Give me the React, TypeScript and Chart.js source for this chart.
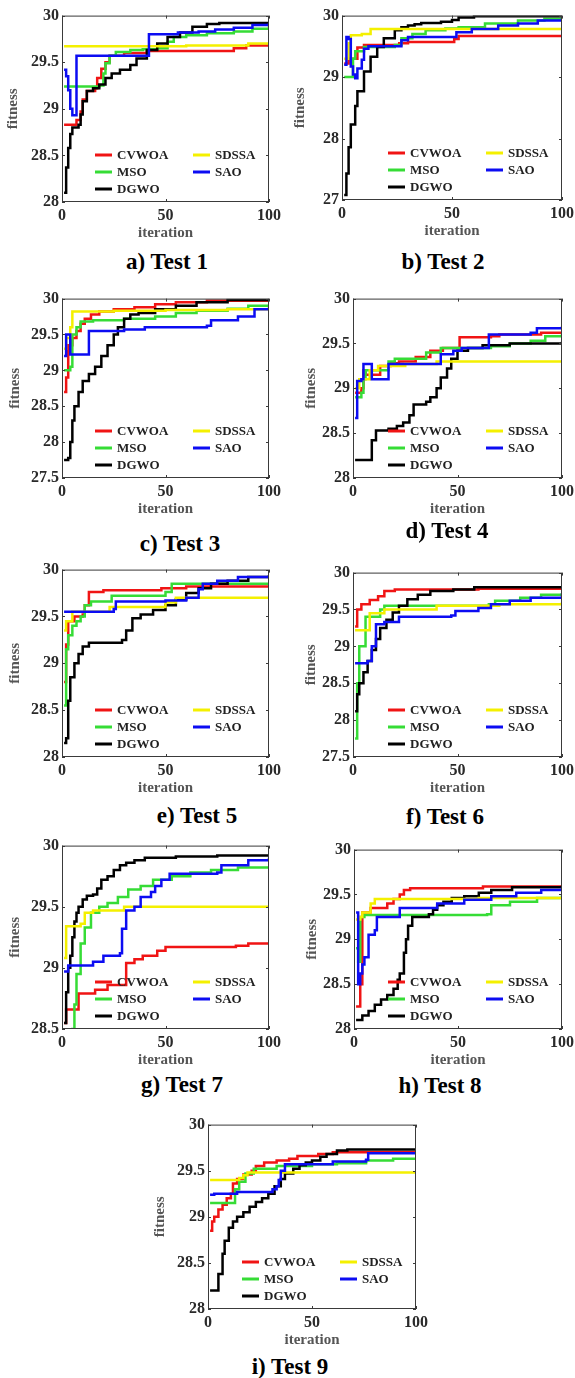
import React, { useEffect, useRef } from "react";
import { Chart, registerables } from "chart.js";

Chart.register(...registerables);

// ---------- series identity ----------
const SERIES = ["CVWOA", "MSO", "DGWO", "SDSSA", "SAO"];
const COLORS = ["#f01414", "#36dc36", "#000000", "#f4f000", "#0c0cf2"];

// ---------- tick labels ----------
const X_TICKS = [0, 50, 100];
const Y_TICKS_28 = [28, 28.5, 29, 29.5, 30];
const Y_TICKS_27 = [27, 28, 29, 30];
const Y_TICKS_275 = [27.5, 28, 28.5, 29, 29.5, 30];
const Y_TICKS_285 = [28.5, 29, 29.5, 30];

// ---------- Test 1 ----------
const t1CVWOA = [[1,28.83],[7,28.88],[9,28.97],[10,29.1],[12,29.19],[16,29.22],[17,29.33],[19,29.43],[21,29.5],[23,29.57],[30,29.6],[41,29.62],[83,29.65],[89,29.68],[100,29.7]];
const t1SDSSA = [[1,29.67],[60,29.68],[90,29.7],[100,29.7]];
const t1MSO = [[1,29.24],[18,29.25],[20,29.38],[21,29.49],[23,29.57],[26,29.61],[33,29.63],[39,29.64],[46,29.65],[51,29.72],[54,29.77],[60,29.79],[70,29.81],[83,29.83],[92,29.86],[100,29.89]];
const t1SAO = [[1,29.42],[2,29.35],[3,29.2],[4,29.0],[5,28.93],[7,29.57],[41,29.57],[42,29.8],[54,29.8],[56,29.82],[66,29.83],[74,29.85],[83,29.87],[92,29.9],[100,29.92]];
const t1DGWO = [[1,28.1],[2,28.37],[3,28.58],[4,28.73],[5,28.8],[8,28.83],[9,28.94],[10,29.08],[12,29.19],[15,29.22],[18,29.26],[21,29.33],[24,29.38],[28,29.42],[33,29.47],[36,29.54],[41,29.63],[46,29.7],[51,29.77],[57,29.82],[63,29.88],[70,29.91],[76,29.92],[100,29.93]];

// ---------- Test 2 ----------
const t2CVWOA = [[1,29.22],[3,29.3],[7,29.48],[10,29.52],[26,29.55],[30,29.57],[51,29.62],[53,29.67],[100,29.67]];
const t2SDSSA = [[1,29.3],[3,29.55],[4,29.68],[9,29.7],[13,29.78],[100,29.78]];
const t2MSO = [[1,29.0],[5,29.3],[6,29.42],[10,29.49],[24,29.52],[27,29.63],[32,29.7],[38,29.76],[47,29.79],[53,29.81],[65,29.87],[80,29.92],[92,29.95],[100,29.96]];
const t2SAO = [[1,29.2],[2,29.65],[3,29.62],[4,29.17],[5,29.04],[6,28.98],[7,29.14],[9,29.28],[10,29.46],[12,29.5],[27,29.6],[30,29.65],[50,29.65],[52,29.73],[59,29.78],[71,29.84],[80,29.87],[89,29.92],[100,29.96]];
const t2DGWO = [[1,27.08],[2,27.43],[3,27.86],[4,28.23],[6,28.53],[7,28.77],[10,29.09],[13,29.33],[16,29.49],[19,29.63],[24,29.76],[27,29.81],[30,29.84],[33,29.86],[36,29.88],[45,29.9],[50,29.93],[53,29.97],[60,29.99],[100,30.0]];

// ---------- Test 3 ----------
const t3CVWOA = [[1,28.7],[2,28.9],[3,29.35],[5,29.45],[7,29.55],[9,29.65],[11,29.72],[14,29.78],[18,29.82],[25,29.85],[35,29.88],[45,29.92],[55,29.95],[70,29.97],[100,29.98]];
const t3SDSSA = [[1,29.3],[2,29.45],[4,29.6],[5,29.82],[25,29.83],[50,29.84],[80,29.85],[100,29.85]];
const t3MSO = [[1,29.0],[4,29.05],[5,29.5],[7,29.6],[9,29.68],[15,29.7],[30,29.72],[45,29.75],[55,29.8],[65,29.83],[80,29.86],[90,29.9],[100,29.92]];
const t3SAO = [[1,29.2],[2,29.5],[4,29.22],[13,29.55],[30,29.57],[40,29.6],[70,29.62],[72,29.7],[85,29.75],[93,29.85],[100,29.88]];
const t3DGWO = [[1,27.75],[3,27.78],[4,28.0],[5,28.3],[6,28.5],[8,28.7],[10,28.85],[13,28.95],[16,29.05],[19,29.2],[22,29.35],[25,29.5],[27,29.6],[30,29.72],[33,29.78],[37,29.8],[45,29.85],[55,29.9],[65,29.95],[80,29.98],[100,30.0]];

// ---------- Test 4 ----------
const t4CVWOA = [[1,28.95],[4,29.0],[5,29.2],[6,29.15],[13,29.25],[18,29.28],[22,29.3],[30,29.35],[37,29.42],[43,29.45],[51,29.57],[66,29.58],[70,29.6],[90,29.62],[100,29.63]];
const t4SDSSA = [[1,29.0],[3,29.1],[8,29.2],[12,29.25],[25,29.27],[40,29.3],[100,29.3]];
const t4MSO = [[1,28.9],[4,28.95],[5,29.1],[6,29.2],[17,29.3],[20,29.33],[35,29.4],[42,29.45],[66,29.47],[75,29.5],[85,29.53],[92,29.58],[100,29.61]];
const t4SAO = [[1,28.67],[2,29.08],[4,29.1],[5,29.27],[9,29.1],[17,29.27],[41,29.27],[42,29.38],[48,29.42],[52,29.45],[64,29.45],[65,29.6],[85,29.62],[88,29.67],[100,29.69]];
const t4DGWO = [[1,28.2],[8,28.2],[9,28.42],[11,28.53],[17,28.55],[21,28.58],[24,28.62],[27,28.7],[29,28.82],[35,28.85],[37,28.9],[40,29.0],[42,29.12],[45,29.22],[47,29.33],[50,29.42],[55,29.45],[62,29.48],[75,29.5],[100,29.52]];

// ---------- Test 5 ----------
const t5CVWOA = [[1,28.8],[2,29.2],[3,29.45],[6,29.5],[10,29.52],[11,29.62],[13,29.76],[20,29.78],[48,29.8],[60,29.82],[100,29.83]];
const t5SDSSA = [[1,29.35],[2,29.45],[5,29.55],[23,29.6],[50,29.65],[55,29.7],[100,29.7]];
const t5MSO = [[1,28.55],[2,29.15],[3,29.3],[5,29.4],[7,29.45],[9,29.5],[11,29.62],[14,29.66],[24,29.72],[50,29.76],[53,29.85],[100,29.86]];
const t5SAO = [[1,29.55],[25,29.58],[26,29.66],[50,29.67],[60,29.7],[66,29.79],[68,29.85],[75,29.88],[85,29.92],[100,29.94]];
const t5DGWO = [[1,28.15],[2,28.2],[3,28.6],[4,28.85],[6,29.0],[8,29.1],[10,29.18],[13,29.22],[29,29.25],[31,29.35],[34,29.48],[38,29.52],[44,29.57],[50,29.62],[55,29.68],[60,29.75],[66,29.8],[72,29.85],[80,29.88],[90,29.92],[100,29.94]];

// ---------- Test 6 ----------
const t6CVWOA = [[1,29.27],[2,29.5],[4,29.57],[8,29.63],[12,29.68],[15,29.75],[20,29.77],[60,29.78],[100,29.8]];
const t6SDSSA = [[1,29.22],[7,29.22],[8,29.45],[15,29.5],[40,29.55],[70,29.57],[100,29.6]];
const t6MSO = [[1,27.75],[2,28.5],[3,29.0],[6,29.4],[13,29.5],[15,29.55],[65,29.57],[68,29.62],[80,29.66],[90,29.7],[100,29.72]];
const t6SAO = [[1,28.77],[7,28.8],[9,29.0],[11,29.3],[15,29.33],[22,29.4],[47,29.42],[49,29.48],[60,29.52],[66,29.57],[75,29.62],[85,29.66],[100,29.72]];
const t6DGWO = [[1,28.12],[2,28.35],[3,28.5],[5,28.65],[7,28.8],[9,28.95],[11,29.1],[13,29.25],[16,29.36],[19,29.46],[22,29.55],[26,29.64],[31,29.7],[37,29.75],[48,29.77],[58,29.8],[100,29.8]];

// ---------- Test 7 ----------
const t7CVWOA = [[1,28.55],[2,28.66],[8,28.79],[16,28.82],[22,28.86],[31,29.04],[35,29.07],[39,29.1],[46,29.14],[50,29.17],[84,29.18],[90,29.2],[100,29.2]];
const t7SDSSA = [[1,29.08],[2,29.34],[9,29.36],[11,29.45],[15,29.47],[30,29.5],[100,29.5]];
const t7MSO = [[1,28.4],[5,28.5],[6,28.7],[7,28.95],[9,29.2],[11,29.33],[14,29.45],[18,29.5],[22,29.53],[27,29.58],[32,29.64],[38,29.67],[44,29.72],[53,29.75],[62,29.78],[72,29.8],[85,29.82],[100,29.83]];
const t7SAO = [[1,28.97],[3,29.02],[15,29.05],[20,29.1],[28,29.12],[29,29.32],[31,29.47],[35,29.5],[38,29.58],[43,29.62],[45,29.67],[48,29.72],[52,29.77],[75,29.78],[77,29.84],[90,29.88],[100,29.9]];
const t7DGWO = [[1,28.55],[2,28.8],[3,29.0],[4,29.1],[5,29.25],[6,29.38],[7,29.45],[8,29.5],[10,29.56],[12,29.59],[15,29.6],[17,29.65],[19,29.72],[22,29.75],[25,29.8],[28,29.84],[31,29.86],[35,29.88],[40,29.9],[55,29.91],[75,29.92],[100,29.93]];

// ---------- Test 8 ----------
const t8CVWOA = [[1,28.25],[3,28.5],[4,29.3],[8,29.35],[16,29.4],[19,29.45],[22,29.5],[24,29.55],[27,29.57],[62,29.59],[100,29.6]];
const t8SDSSA = [[1,29.22],[3,29.25],[4,29.3],[8,29.4],[10,29.45],[60,29.46],[100,29.47]];
const t8MSO = [[1,28.9],[2,28.75],[3,29.25],[5,29.27],[64,29.28],[66,29.38],[75,29.42],[88,29.46],[100,29.5]];
const t8SAO = [[1,29.3],[2,28.5],[3,28.62],[4,28.72],[5,28.8],[7,29.05],[10,29.1],[11,29.25],[22,29.35],[40,29.4],[53,29.44],[66,29.48],[78,29.52],[90,29.55],[100,29.58]];
const t8DGWO = [[1,28.1],[4,28.15],[7,28.2],[10,28.27],[13,28.33],[16,28.38],[19,28.45],[21,28.55],[22,28.62],[24,28.85],[25,29.0],[26,29.15],[28,29.25],[36,29.28],[38,29.33],[40,29.38],[43,29.42],[47,29.46],[53,29.48],[60,29.52],[66,29.55],[76,29.58],[100,29.6]];

// ---------- Test 9 ----------
const t9CVWOA = [[1,28.85],[2,28.95],[3,29.0],[5,29.08],[7,29.13],[9,29.2],[11,29.25],[12,29.36],[14,29.41],[17,29.46],[21,29.5],[23,29.55],[27,29.59],[33,29.61],[39,29.63],[43,29.66],[53,29.68],[60,29.7],[100,29.7]];
const t9SDSSA = [[1,29.4],[15,29.42],[17,29.45],[19,29.48],[100,29.48]];
const t9MSO = [[1,29.15],[12,29.15],[13,29.3],[15,29.38],[18,29.47],[22,29.52],[33,29.55],[50,29.57],[62,29.58],[76,29.61],[89,29.63],[100,29.64]];
const t9SAO = [[1,29.24],[3,29.25],[14,29.27],[31,29.3],[33,29.33],[34,29.4],[35,29.5],[37,29.57],[60,29.6],[76,29.62],[77,29.69],[100,29.7]];
const t9DGWO = [[1,28.2],[4,28.2],[5,28.38],[7,28.6],[8,28.74],[10,28.88],[12,28.95],[14,29.0],[17,29.05],[20,29.11],[23,29.16],[26,29.2],[29,29.25],[32,29.33],[35,29.41],[37,29.47],[41,29.52],[44,29.56],[47,29.59],[50,29.61],[54,29.65],[57,29.68],[62,29.72],[67,29.73],[100,29.74]];

// ---------- panels (series order = SERIES) ----------
const PANELS = [
  { caption: "a) Test 1", series: [t1CVWOA, t1MSO, t1DGWO, t1SDSSA, t1SAO], yTicks: Y_TICKS_28 },
  { caption: "b) Test 2", series: [t2CVWOA, t2MSO, t2DGWO, t2SDSSA, t2SAO], yTicks: Y_TICKS_27 },
  { caption: "c) Test 3", series: [t3CVWOA, t3MSO, t3DGWO, t3SDSSA, t3SAO], yTicks: Y_TICKS_275 },
  { caption: "d) Test 4", series: [t4CVWOA, t4MSO, t4DGWO, t4SDSSA, t4SAO], yTicks: Y_TICKS_28 },
  { caption: "e) Test 5", series: [t5CVWOA, t5MSO, t5DGWO, t5SDSSA, t5SAO], yTicks: Y_TICKS_28 },
  { caption: "f) Test 6", series: [t6CVWOA, t6MSO, t6DGWO, t6SDSSA, t6SAO], yTicks: Y_TICKS_275 },
  { caption: "g) Test 7", series: [t7CVWOA, t7MSO, t7DGWO, t7SDSSA, t7SAO], yTicks: Y_TICKS_285 },
  { caption: "h) Test 8", series: [t8CVWOA, t8MSO, t8DGWO, t8SDSSA, t8SAO], yTicks: Y_TICKS_28 },
  { caption: "i) Test 9", series: [t9CVWOA, t9MSO, t9DGWO, t9SDSSA, t9SAO], yTicks: Y_TICKS_28 },
];

// ---------- layout (page pixels) ----------
const LAYOUT = [
  { l: 62, t: 13, r: 269, b: 202, titleOff: 49, cx: 167, cy: 261 },
  { l: 342, t: 13, r: 562, b: 200, titleOff: 42, cx: 443, cy: 261 },
  { l: 62, t: 296, r: 269, b: 478, titleOff: 47, cx: 180, cy: 543 },
  { l: 353, t: 296, r: 562, b: 478, titleOff: 42, cx: 447, cy: 530 },
  { l: 62, t: 567, r: 269, b: 757, titleOff: 47, cx: 197, cy: 815 },
  { l: 353, t: 570, r: 562, b: 757, titleOff: 42, cx: 445, cy: 816 },
  { l: 62, t: 843, r: 269, b: 1029, titleOff: 47, cx: 182, cy: 1084 },
  { l: 354, t: 847, r: 562, b: 1029, titleOff: 42, cx: 440, cy: 1085 },
  { l: 208, t: 1122, r: 416, b: 1309, titleOff: 48, cx: 290, cy: 1366 },
];

const FONT = "'Liberation Serif', 'Times New Roman', serif";

const framePlugin = {
  id: "frame",
  afterDatasetsDraw(chart: any) {
    const { ctx, chartArea, scales } = chart;
    const { left, right, top, bottom } = chartArea;
    ctx.save();
    ctx.strokeStyle = "#3a3a3a";
    ctx.lineWidth = 1;
    ctx.strokeRect(left + 0.5, top + 0.5, right - left - 1, bottom - top - 1);
    ctx.beginPath();
    scales.x.ticks.forEach((t: any) => {
      const px = Math.round(scales.x.getPixelForValue(t.value)) + 0.5;
      ctx.moveTo(px, bottom); ctx.lineTo(px, bottom - 3);
      ctx.moveTo(px, top); ctx.lineTo(px, top + 3);
    });
    scales.y.ticks.forEach((t: any) => {
      const py = Math.round(scales.y.getPixelForValue(t.value)) + 0.5;
      ctx.moveTo(left, py); ctx.lineTo(left + 3, py);
      ctx.moveTo(right, py); ctx.lineTo(right - 3, py);
    });
    ctx.stroke();
    ctx.restore();
  },
};

// legend drawn inside the plot area (column-major: CVWOA, MSO, DGWO | SDSSA, SAO)
const legendPlugin = {
  id: "insideLegend",
  afterDraw(chart: any) {
    const { ctx, chartArea } = chart;
    const { right, bottom } = chartArea;
    const rows = [-47, -30, -13];
    ctx.save();
    ctx.font = `bold 13px ${FONT}`;
    ctx.textBaseline = "middle";
    ctx.textAlign = "left";
    chart.data.datasets.forEach((ds: any, i: number) => {
      const col = i < 3 ? 0 : 1;
      const row = i < 3 ? i : i - 3;
      const x0 = col === 0 ? right - 174 : right - 76;
      const y = bottom + rows[row];
      ctx.strokeStyle = ds.borderColor;
      ctx.lineWidth = 3;
      ctx.beginPath();
      ctx.moveTo(x0, y);
      ctx.lineTo(x0 + 17, y);
      ctx.stroke();
      ctx.fillStyle = "#222";
      ctx.fillText(ds.label, x0 + 22, y + 1);
    });
    ctx.restore();
  },
};

function Panel({ index }: { index: number }) {
  const ref = useRef<HTMLCanvasElement>(null);
  const panel = PANELS[index];
  const box = LAYOUT[index];
  const yW = box.titleOff + 9;
  const padTop = 10;
  const padRight = 16;
  const xH = 42;
  const plotW = box.r - box.l;
  const plotH = box.b - box.t;
  const W = yW + plotW + padRight;
  const H = padTop + plotH + xH;

  useEffect(() => {
    const yT = panel.yTicks;
    let chart: any = null;
    let cancelled = false;
    const build = () => {
      if (cancelled || !ref.current) return;
      chart = new Chart(ref.current as HTMLCanvasElement, {
        type: "line",
        data: {
          datasets: panel.series.map((pts, i) => ({
            label: SERIES[i],
            data: pts.map(([x, y]) => ({ x, y })),
            borderColor: COLORS[i],
            backgroundColor: COLORS[i],
            borderWidth: 2.5,
            pointRadius: 0,
            stepped: true,
            fill: false,
            order: 4 - i,
          })),
        },
        options: {
          animation: false,
          responsive: false,
          maintainAspectRatio: false,
          events: [],
          layout: { padding: { left: 0, top: padTop, right: padRight, bottom: 0 } },
          plugins: { legend: { display: false }, tooltip: { enabled: false } },
          scales: {
            x: {
              type: "linear",
              min: 0,
              max: 100,
              afterBuildTicks: (s: any) => { s.ticks = X_TICKS.map((v) => ({ value: v })); },
              afterFit: (s: any) => { s.height = xH; },
              grid: { display: false, drawTicks: false },
              border: { display: false },
              ticks: {
                autoSkip: false,
                maxRotation: 0,
                padding: 4,
                color: "#2a2a2a",
                font: { family: FONT, size: 16, weight: "bold" },
                callback: (v: any) => String(v),
              },
              title: {
                display: true,
                text: "iteration",
                color: "#555",
                padding: { top: 0, bottom: 2 },
                font: { family: FONT, size: 15, weight: "bold" },
              },
            },
            y: {
              type: "linear",
              min: yT[0],
              max: yT[yT.length - 1],
              afterBuildTicks: (s: any) => { s.ticks = yT.map((v) => ({ value: v })); },
              afterFit: (s: any) => { s.width = yW; },
              grid: { display: false, drawTicks: false },
              border: { display: false },
              ticks: {
                autoSkip: false,
                padding: 3,
                color: "#2a2a2a",
                font: { family: FONT, size: 16, weight: "bold" },
                callback: (v: any) => String(v),
              },
              title: {
                display: true,
                text: "fitness",
                color: "#555",
                padding: { top: 0, bottom: 0 },
                font: { family: FONT, size: 15, weight: "bold" },
              },
            },
          },
        },
        plugins: [framePlugin, legendPlugin],
      } as any);
    };
    const fonts: any = (document as any).fonts;
    if (fonts && fonts.load) {
      Promise.all([
        fonts.load(`bold 16px "Liberation Serif"`),
        fonts.load(`bold 13px "Liberation Serif"`),
      ]).then(build, build);
    } else {
      build();
    }
    return () => {
      cancelled = true;
      if (chart) chart.destroy();
    };
  }, []);

  return (
    <canvas
      ref={ref}
      width={W}
      height={H}
      style={{ position: "absolute", left: box.l - yW, top: box.t - padTop, width: W, height: H }}
    />
  );
}

export default function App() {
  return (
    <div
      style={{
        position: "absolute",
        left: 0,
        top: 0,
        width: 575,
        height: 1378,
        background: "#fff",
        overflow: "hidden",
      }}
    >
      {PANELS.map((p, i) => (
        <Panel key={i} index={i} />
      ))}
      {PANELS.map((p, i) => (
        <div
          key={"c" + i}
          style={{
            position: "absolute",
            left: LAYOUT[i].cx,
            top: LAYOUT[i].cy,
            transform: "translate(-50%, -50%)",
            font: `bold 23px ${FONT}`,
            lineHeight: 1,
            whiteSpace: "nowrap",
            color: "#000",
          }}
        >
          {p.caption}
        </div>
      ))}
    </div>
  );
}
